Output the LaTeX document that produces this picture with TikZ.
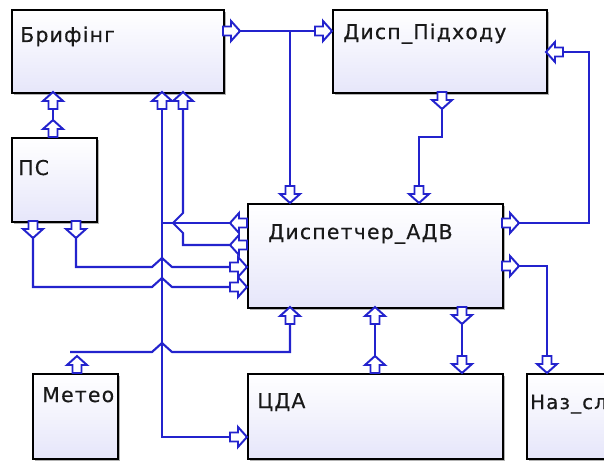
\documentclass[tikz,border=0pt]{standalone}
\usepackage{fontspec}
\newfontfamily\boxfont{DejaVu Sans}[LetterSpace=6.0, FakeBold=0.4]
\usetikzlibrary{shadows}

\definecolor{linkblue}{RGB}{35,35,205}
\definecolor{boxfill}{RGB}{230,230,250}
\definecolor{boxtext}{RGB}{25,25,25}

\tikzset{
	block/.style={draw=black, line width=1.2pt, anchor=north west, inner sep=0pt,
		top color=white, middle color=white, bottom color=boxfill,
		drop shadow={shadow xshift=0.05cm, shadow yshift=-0.05cm, fill=black, opacity=0.3}},
	name text/.style={anchor=base west, inner sep=0pt, text=boxtext,
		font=\boxfont\fontsize{14.5}{16}\selectfont},
	port/.style={draw=linkblue, fill=white, line width=1.4pt, line join=miter},
	link/.style={draw=linkblue, line width=1.5pt}
}

\begin{document}
\begin{tikzpicture}[x=0.025cm, y=-0.025cm]
	\clip (0, 0) rectangle (604, 460);
	% blocks
	\node[block, minimum width=5.3cm, minimum height=2.075cm] (brf) at (11, 9) {};
	\node[block, minimum width=5.35cm, minimum height=2.075cm] (dph) at (332, 9) {};
	\node[block, minimum width=2.125cm, minimum height=2.1cm] (ps) at (11, 137) {};
	\node[block, minimum width=6.375cm, minimum height=2.6cm] (adv) at (247, 203) {};
	\node[block, minimum width=2.125cm, minimum height=2.125cm] (mto) at (32, 373) {};
	\node[block, minimum width=6.375cm, minimum height=2.125cm] (cda) at (247, 373) {};
	\node[block, minimum width=2.85cm, minimum height=2.125cm] (naz) at (526, 373) {};

	\node[name text] (brf-t) at (20, 42) {Брифінг};
	\node[name text] (dph-t) at (343, 39) {Дисп\_Підходу};
	\node[name text] (ps-t0) at (18, 175) {ПС};
	\node[name text] (adv-t) at (268, 239) {Диспетчер\_АДВ};
	\node[name text] (mto-t0) at (42, 402) {Метео};
	\node[name text] (cda-t) at (257, 408) {ЦДА};
	\node[name text, font=\boxfont\fontsize{14}{16}\selectfont] (naz-t0) at (530, 409) {Наз\_сл};

	% ports: name / x / y / direction / offset (-17 = tip on the border, 0 = tail on the border)
	\foreach \n/\x/\y/\r/\o in {
		brf-r/223/31/0/0, brf-b1/53/92/90/-17, brf-b2/162/92/90/-17, brf-b3/183/92/90/-17,
		dph-l/332/31/0/-17, dph-b/442/92/270/0, dph-r/546/52/180/-17,
		ps-t/53/137/90/0, ps-b1/33/221/270/0, ps-b2/76/221/270/0,
		adv-t1/290/203/270/-17, adv-t2/419/203/270/-17,
		adv-l1/247/223/180/0, adv-l2/247/245/180/0, adv-l3/247/267/0/-17, adv-l4/247/287/0/-17,
		adv-r1/502/223/0/0, adv-r2/502/266/0/0,
		adv-b1/290/307/90/-17, adv-b2/375/307/90/-17, adv-b3/462/307/270/0,
		mto-t/77/373/90/0, cda-t1/375/373/90/0, cda-t2/462/373/270/-17,
		cda-l/247/437/0/-17, naz-t/547/373/270/-17}{
		\begin{scope}[shift={(\x, \y)}, rotate=\r]
			\draw[port] (\o, -4.5) -- ++(8, 0) -- ++(0, -5.5) -- ++(9, 10) -- ++(-9, 10)
				-- ++(0, -5.5) -- ++(-8, 0) -- cycle;
			\coordinate (\n-tail) at (\o, 0);
			\coordinate (\n-tip) at (\o + 17, 0);
		\end{scope}
	}

	% links
	\draw[link] (brf-r-tip) -- (dph-l-tail);
	\draw[link] (adv-t1-tail |- brf-r-tip) -- (adv-t1-tail);
	\draw[link] (dph-b-tip) -- ++(0, 28) -| (adv-t2-tail);
	\draw[link] (adv-r1-tip) -- ++(70, 0) |- (dph-r-tail);
	\draw[link] (adv-r2-tip) -| (naz-t-tail);
	\draw[link] (adv-b2-tail) -- (cda-t1-tip);
	\draw[link] (adv-b3-tip) -- (cda-t2-tail);
	\draw[link] (ps-t-tip) -- (brf-b1-tail);
	\draw[link] (brf-b2-tail) |- (cda-l-tail);
	\draw[link] (adv-l1-tip) -- (adv-l1-tip -| brf-b2-tail);
	\draw[link] (brf-b3-tail) -- (brf-b3-tail |- 0, 213) -- ++(-10, 10) -- ++(10, 10) |- (adv-l2-tip);
	\draw[link] (ps-b2-tip) |- (152, 267) -- ++(10, -9) -- ++(10, 9) -- (adv-l3-tail);
	\draw[link] (ps-b1-tip) |- (152, 287) -- ++(10, -9) -- ++(10, 9) -- (adv-l4-tail);
	\draw[link] (adv-b1-tail) |- (172, 352) -- ++(-10, -9) -- ++(-10, 9) -- ++(-82, 0);
\end{tikzpicture}
\end{document}
